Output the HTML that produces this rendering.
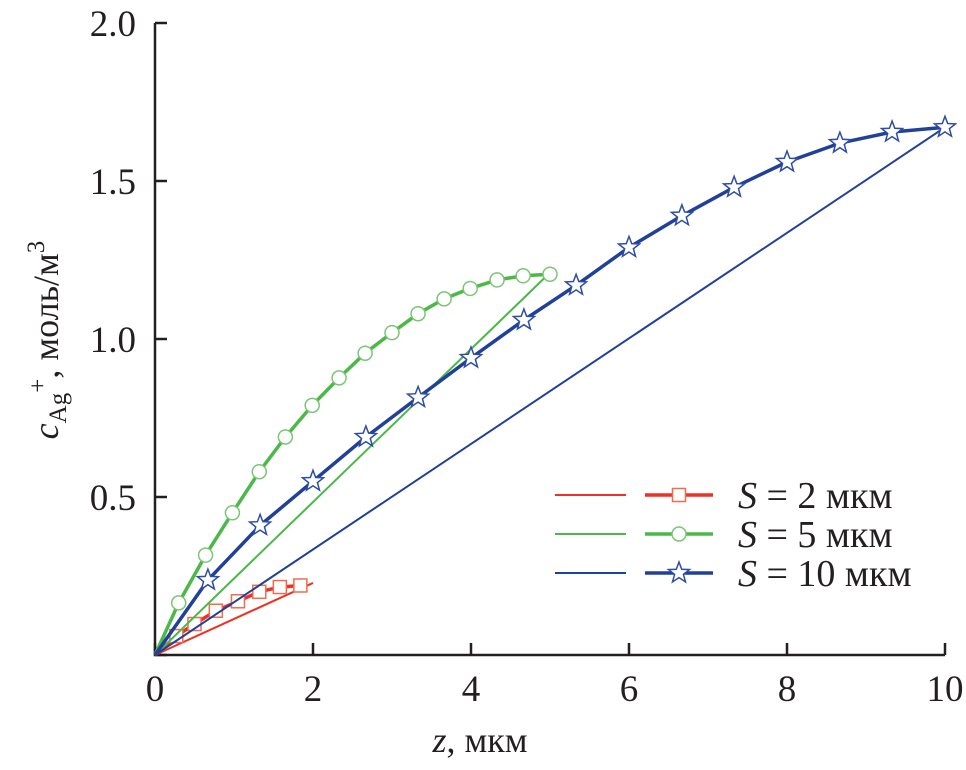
<!DOCTYPE html>
<html><head><meta charset="utf-8"><style>
body{margin:0;background:#fff}
svg text{font-family:"Liberation Serif","Times New Roman",serif;fill:#231f20}
</style></head><body>
<svg width="966" height="765" xmlns="http://www.w3.org/2000/svg">
<g id="axes"></g>
<g id="plot"></g>
<g id="legend"></g>
<text x="480" y="752" font-size="36" text-anchor="middle"><tspan font-style="italic">z</tspan>, мкм</text>
<text transform="translate(58,340) rotate(-90)" font-size="36" text-anchor="middle"><tspan font-style="italic">c</tspan><tspan font-size="25" dy="8">Ag</tspan><tspan font-size="25" dy="-20">+</tspan><tspan dy="12">, моль/м</tspan><tspan font-size="25" dy="-14">3</tspan></text>
</svg>
<script>
const xTicks=[0,2,4,6,8,10];
const yTicks=[0,0.5,1.0,1.5,2.0];
const yTickLabels=["","0.5","1.0","1.5","2.0"];
const s2z=[0,0.27,0.5,0.77,1.05,1.32,1.58,1.84];
const s2c=[0,0.06,0.098,0.14,0.17,0.2,0.215,0.22];
const s5z=[0,0.3,0.64,0.98,1.32,1.65,1.99,2.33,2.66,3.0,3.33,3.66,3.99,4.33,4.66,5.0];
const s5c=[0,0.165,0.316,0.45,0.58,0.69,0.79,0.877,0.955,1.02,1.08,1.127,1.16,1.187,1.2,1.205];
const s10z=[0,0.67,1.33,2,2.67,3.33,4,4.67,5.33,6,6.67,7.33,8,8.67,9.33,10];
const s10c=[0,0.237,0.41,0.55,0.69,0.815,0.94,1.06,1.17,1.29,1.39,1.48,1.56,1.62,1.655,1.67];
const lin2=[[0,0],[2,0.228]];
const lin5=[[0,0],[5,1.21]];
const lin10=[[0,0],[10,1.67]];
const NS="http://www.w3.org/2000/svg";
const X=v=>155+v*79, Y=v=>655-v*316;
function mk(t,a,p){const e=document.createElementNS(NS,t);for(const k in a)e.setAttribute(k,a[k]);p.appendChild(e);return e;}
const ax=document.getElementById('axes'),pl=document.getElementById('plot'),lg=document.getElementById('legend');
let e=mk('path',{d:`M${X(0)},${Y(2)}V${Y(0)}H${X(10)}`,stroke:'#231f20','stroke-width':2.5,fill:'none'},ax);

xTicks.forEach(t=>{let l=mk('line',{x1:X(t),x2:X(t),y1:Y(0),y2:Y(0)-12,stroke:'#231f20','stroke-width':2.5},ax);

let tx=mk('text',{x:X(t),y:701,'font-size':37,'text-anchor':'middle'},ax);tx.textContent=t;
});
yTicks.forEach((t,i)=>{let l=mk('line',{x1:X(0),x2:X(0)+12,y1:Y(t),y2:Y(t),stroke:'#231f20','stroke-width':2.5},ax);

let tx=mk('text',{x:136,y:Y(t)+13,'font-size':37,'text-anchor':'end'},ax);tx.textContent=yTickLabels[i];
});
function star(cx,cy,r){let p=[];for(let i=0;i<10;i++){let a=-Math.PI/2+i*Math.PI/5,rr=i%2?r*0.42:r;p.push((cx+rr*Math.cos(a)).toFixed(1)+','+(cy+rr*Math.sin(a)).toFixed(1));}return p.join(' ');}
function marker(type,x,y,col,g){let m;
if(type=='sq')m=mk('rect',{x:x-6.5,y:y-6.5,width:13,height:13,fill:'#fff',stroke:col,'stroke-width':1.5},g);
else if(type=='ci')m=mk('circle',{cx:x,cy:y,r:7,fill:'#fff',stroke:col,'stroke-width':1.5},g);
else m=mk('polygon',{points:star(x,y,11),fill:'#fff',stroke:col,'stroke-width':1.5},g);
}
const series=[
{name:'s2',z:s2z,c:s2c,lin:lin2,col:'#ee3124',mcol:'#f26b4f',m:'sq'},
{name:'s5',z:s5z,c:s5c,lin:lin5,col:'#4cb848',mcol:'#7cc576',m:'ci'},
{name:'s10',z:s10z,c:s10c,lin:lin10,col:'#21409a',mcol:'#2e4ea3',m:'st'}];
series.forEach(s=>{
let l=mk('line',{x1:X(s.lin[0][0]),y1:Y(s.lin[0][1]),x2:X(s.lin[1][0]),y2:Y(s.lin[1][1]),stroke:s.col,'stroke-width':2},pl);

let d=s.z.map((z,i)=>(i?'L':'M')+X(z).toFixed(1)+','+Y(s.c[i]).toFixed(1)).join('');
let p=mk('path',{d:d,stroke:s.col,'stroke-width':3.5,fill:'none','stroke-linejoin':'round'},pl);

let g=mk('g',{},pl);
s.z.forEach((z,i)=>{if(i>0)marker(s.m,X(z),Y(s.c[i]),s.mcol,g);});
});
const labs=['2 мкм','5 мкм','10 мкм'];
series.forEach((s,i)=>{const y=495+i*39;
let a=mk('line',{x1:555,x2:626,y1:y,y2:y,stroke:s.col,'stroke-width':2},lg);
let b=mk('line',{x1:645,x2:713,y1:y,y2:y,stroke:s.col,'stroke-width':3.5},lg);
marker(s.m,679,y,s.mcol,lg);
let t=mk('text',{x:738,y:y+13,'font-size':38},lg);t.innerHTML='<tspan font-style="italic">S</tspan> = '+labs[i];
});
</script>
</body></html>
